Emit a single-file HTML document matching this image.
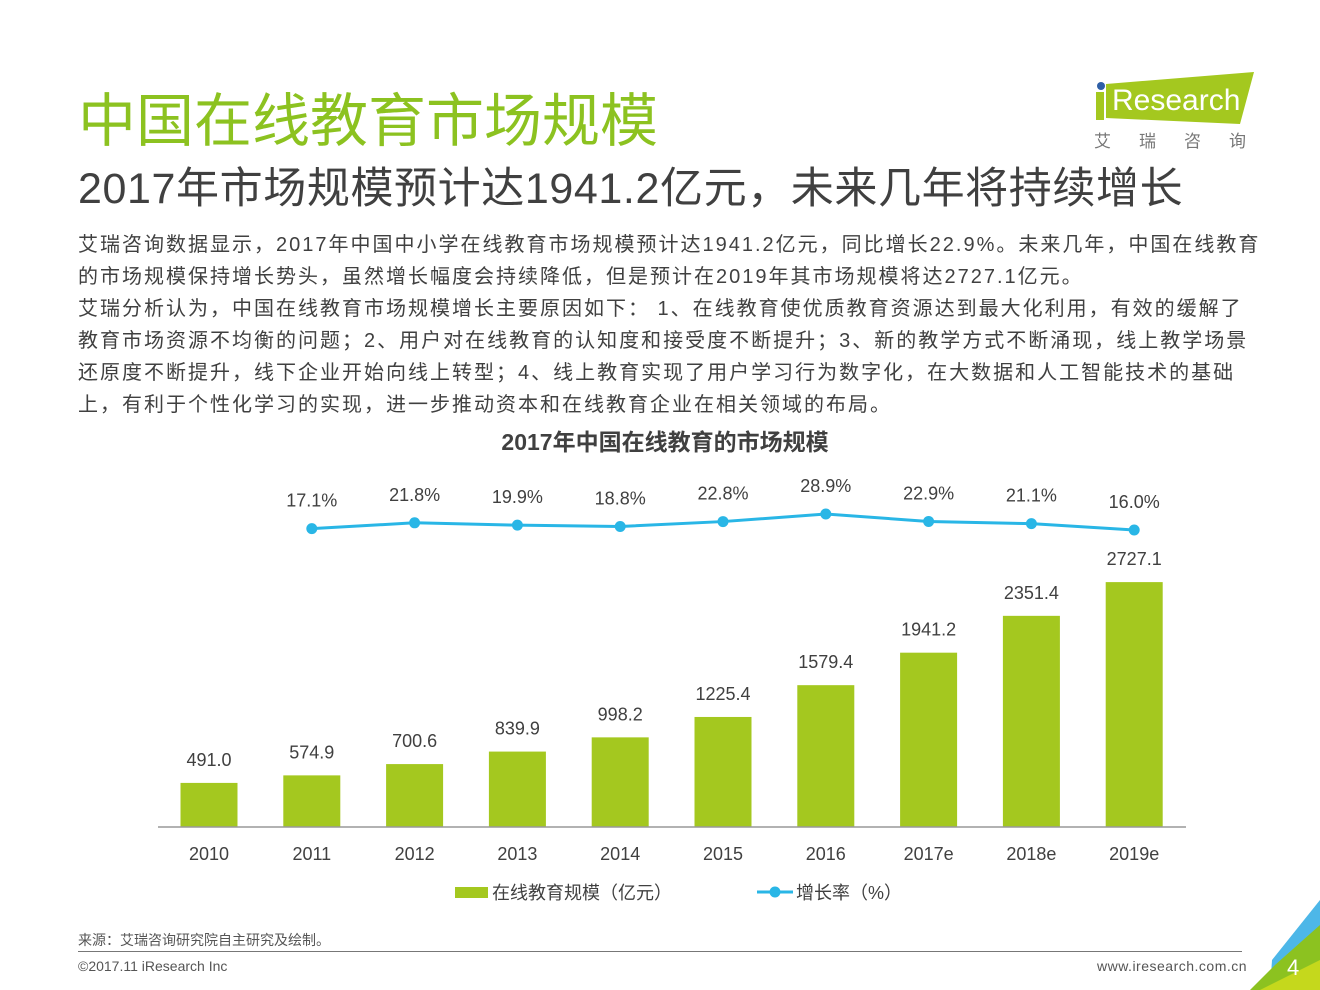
<!DOCTYPE html>
<html><head><meta charset="utf-8"><style>
body{margin:0;width:1320px;height:990px;background:#fff;position:relative;overflow:hidden;font-family:"Liberation Sans","Noto Sans CJK SC",sans-serif;}
.a{position:absolute;white-space:nowrap;}
</style></head><body>
<div class="a" style="left:78px;top:74px;font-size:58px;color:#8cc220;letter-spacing:0px;">中国在线教育市场规模</div>
<div class="a" style="left:78px;top:154px;font-size:43px;color:#404040;letter-spacing:0.6px;">2017年市场规模预计达1941.2亿元，未来几年将持续增长</div>
<div class="a" style="left:78px;top:229px;font-size:20px;line-height:32px;color:#404040;letter-spacing:2px;">艾瑞咨询数据显示，2017年中国中小学在线教育市场规模预计达1941.2亿元，同比增长22.9%。未来几年，中国在线教育<br>的市场规模保持增长势头，虽然增长幅度会持续降低，但是预计在2019年其市场规模将达2727.1亿元。<br>艾瑞分析认为，中国在线教育市场规模增长主要原因如下： 1、在线教育使优质教育资源达到最大化利用，有效的缓解了<br>教育市场资源不均衡的问题；2、用户对在线教育的认知度和接受度不断提升；3、新的教学方式不断涌现，线上教学场景<br>还原度不断提升，线下企业开始向线上转型；4、线上教育实现了用户学习行为数字化，在大数据和人工智能技术的基础<br>上，有利于个性化学习的实现，进一步推动资本和在线教育企业在相关领域的布局。</div>
<div class="a" style="left:1090px;top:70px;width:170px;height:85px;">
<svg width="170" height="85"><polygon points="16,14 164,2 150,54 16,48" fill="#a4c81f"/><circle cx="11" cy="16" r="4" fill="#2e5fa6"/><rect x="6" y="22" width="8" height="28" fill="#a4c81f"/><text x="22" y="40" font-size="30" fill="#fff" font-family="Liberation Sans,sans-serif">Research</text><text x="4" y="77" font-size="17" fill="#777" font-family="Liberation Sans,Noto Sans CJK SC,sans-serif" letter-spacing="28">艾瑞咨询</text></svg></div>
<div class="a" style="left:0;width:1330px;text-align:center;top:423px;font-size:23px;font-weight:bold;color:#404040;">2017年中国在线教育的市场规模</div>
<svg id="chart" class="a" style="left:0;top:0" width="1320" height="990"></svg>
<div class="a" style="left:78px;top:930px;font-size:14px;color:#555;">来源：艾瑞咨询研究院自主研究及绘制。</div>
<div class="a" style="left:78px;top:951px;width:1164px;height:1px;background:#777;"></div>
<div class="a" style="left:78px;top:958px;font-size:14px;color:#555;">©2017.11 iResearch Inc</div>
<div class="a" style="left:1097px;top:958px;font-size:14px;color:#555;letter-spacing:0.5px;">www.iresearch.com.cn</div>
<svg class="a" style="left:1240px;top:900px" width="80" height="90"><polygon points="80,0 80,90 30,90 32,60" fill="#4db7e8"/><polygon points="80,25 80,90 10,90 35,65" fill="#8cc220"/><polygon points="80,60 80,90 20,90" fill="#c5d81c"/><text x="47" y="75" font-size="22" fill="#fff" font-family="Liberation Sans,sans-serif">4</text></svg>
<script>
const categories=["2010","2011","2012","2013","2014","2015","2016","2017e","2018e","2019e"];
const marketSize=[491.0,574.9,700.6,839.9,998.2,1225.4,1579.4,1941.2,2351.4,2727.1];
const growthRate=[17.1,21.8,19.9,18.8,22.8,28.9,22.9,21.1,16.0];
const svg=document.getElementById('chart');const NS='http://www.w3.org/2000/svg';
function mk(t,a,txt){const e=document.createElementNS(NS,t);for(const k in a)e.setAttribute(k,a[k]);if(txt!==undefined)e.textContent=txt;svg.appendChild(e);return e;}
const xPos=i=>209+i*102.8;
const yBar=v=>827-v*0.0898;
const yLine=v=>514+(28.9-v)*1.24;
marketSize.forEach((v,i)=>{
 const r=mk('rect',{x:xPos(i)-28.5,y:yBar(v),width:57,height:827-yBar(v),fill:'#a4c81f'});
 
 
 const t=mk('text',{x:xPos(i),y:yBar(v)-17,'text-anchor':'middle','font-size':18,fill:'#404040'},v.toFixed(1));
 
 
 const c=mk('text',{x:xPos(i),y:860,'text-anchor':'middle','font-size':18,fill:'#404040'},categories[i]);
 
 
});
const ax=mk('line',{x1:158,x2:1186,y1:827,y2:827,stroke:'#999','stroke-width':1.5});


const pts=growthRate.map((v,i)=>xPos(i+1)+','+yLine(v)).join(' ');
const pl=mk('polyline',{points:pts,fill:'none',stroke:'#29b6e6','stroke-width':3});


growthRate.forEach((v,i)=>{
 const c=mk('circle',{cx:xPos(i+1),cy:yLine(v),r:5.5,fill:'#29b6e6'});
 
 
 const t=mk('text',{x:xPos(i+1),y:yLine(v)-22,'text-anchor':'middle','font-size':18,fill:'#404040'},v.toFixed(1)+'%');
 
 
});
const l1=mk('rect',{x:455,y:887,width:33,height:11,fill:'#a4c81f'});


const l1t=mk('text',{x:492,y:899,'font-size':18,fill:'#404040'},'在线教育规模（亿元）');


const l2=mk('line',{x1:757,x2:793,y1:892,y2:892,stroke:'#29b6e6','stroke-width':3});


const l2c=mk('circle',{cx:775,cy:892,r:5.5,fill:'#29b6e6'});


const l2t=mk('text',{x:796,y:899,'font-size':18,fill:'#404040'},'增长率（%）');


</script>
</body></html>
